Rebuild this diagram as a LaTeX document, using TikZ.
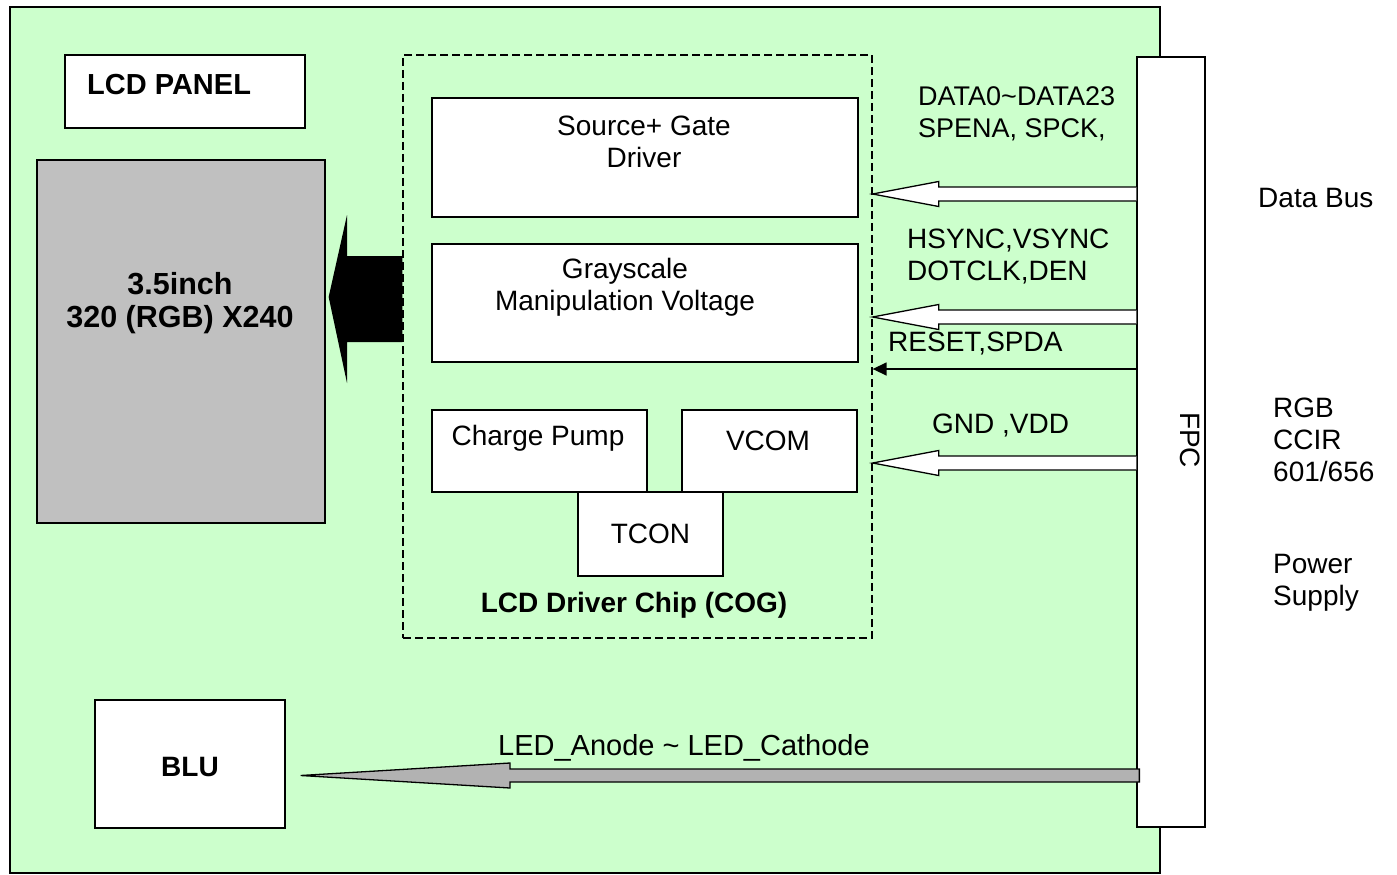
\documentclass[tikz,border=0pt]{standalone}
\usepackage{fontspec}
\setmainfont{Liberation Sans}
\usepackage{xcolor}
\usetikzlibrary{calc,arrows.meta,positioning}
\definecolor{boardGreen}{RGB}{204,255,204}
\definecolor{panelGray}{RGB}{192,192,192}
\definecolor{ledGray}{RGB}{178,178,178}

\begin{document}
\begin{tikzpicture}[x=1pt,y=-1pt,
    font=\fontsize{28}{32}\selectfont,
    block/.style={draw, fill=white, line width=1.3pt, inner sep=0pt},
    txt/.style={inner sep=0pt, align=center},
    sig/.style={inner sep=0pt, align=left, anchor=west}]

    \useasboundingbox (0,0) rectangle (1397,875);

    % board
    \draw[fill=boardGreen, line width=1.5pt] (10,7) rectangle (1160,873);

    % panel side
    \node[block, minimum width=240pt, minimum height=73pt] (title) at (185,91.5) {};
    \node[txt, font=\fontsize{29}{32}\selectfont\bfseries, anchor=west] (titletxt) at (87,85) {LCD PANEL};
    \node[block, fill=panelGray, minimum width=288pt, minimum height=363pt] (panel) at (181,341.5) {};
    \node[txt, font=\fontsize{30.5}{33}\selectfont\bfseries] (paneltxt) at (180,303) {3.5inch\\320 (RGB) X240};

    % driver chip
    \node[draw, dash pattern=on 8pt off 4pt, line width=1.3pt, minimum width=469pt, minimum height=583pt] (chip) at (637.5,346.5) {};
    \node[block, minimum width=426pt, minimum height=119pt] (src) at (645,157.5) {};
    \node[txt] (srctxt) at (644,142) {Source+ Gate\\Driver};
    \node[block, minimum width=426pt, minimum height=118pt] (gray) at (645,303) {};
    \node[txt] (graytxt) at (625,287) {Grayscale\\Manipulation Voltage};
    \node[block, minimum width=215pt, minimum height=82pt] (pump) at (539.5,451) {};
    \node[txt] (pumptxt) at (538,438) {Charge Pump};
    \node[block, minimum width=175pt, minimum height=82pt] (vcom) at (769.5,451) {};
    \node[txt] (vcomtxt) at (768,441) {VCOM};
    \node[block, minimum width=145pt, minimum height=84pt] (tcon) at (650.5,534) {TCON};
    \node[txt, font=\fontsize{28}{32}\selectfont\bfseries] (chiptxt) at (634,605) {LCD Driver Chip (COG)};

    % fpc and backlight
    \node[block, minimum width=68pt, minimum height=770pt] (fpc) at (1171,442) {};
    \node[txt, rotate=-90] (fpctxt) at (1190,440) {FPC};
    \node[block, minimum width=190pt, minimum height=128pt] (blu) at (190,764) {};
    \node[txt, font=\fontsize{28}{32}\selectfont\bfseries] (blutxt) at (190,767) {BLU};

    % bus arrows
    \foreach \yy in {194,317,463} {
        \filldraw[fill=white, line width=1.3pt]
            ($(fpc.west|-0,\yy)+(0,-7)$) -- ($(chip.east|-0,\yy)+(66,-7)$)
            -- ($(chip.east|-0,\yy)+(66,-12.5)$) -- (chip.east|-0,\yy)
            -- ($(chip.east|-0,\yy)+(66,12.5)$) -- ($(chip.east|-0,\yy)+(66,7)$)
            -- ($(fpc.west|-0,\yy)+(0,7)$);
    }
    \draw[line width=1.5pt, -{Triangle[length=14pt,width=13pt]}] (fpc.west|-0,369) -- (chip.east|-0,369);

    % chip to panel
    \fill[black] (chip.west|-0,256) -- (347,256) -- (347,215)
        -- ($(panel.east|-0,297)+(3,0)$) -- (347,383) -- (347,342) -- (chip.west|-0,342) -- cycle;

    % led lines
    \filldraw[fill=ledGray, line width=1.3pt] ($(fpc.west|-0,769)+(3,0)$) -- (510,769) -- (510,763)
        -- ($(blu.east|-0,775.5)+(15,0)$) -- (510,788) -- (510,782) -- ($(fpc.west|-0,782)+(3,0)$) -- cycle;

    % signal labels
    \node[sig, font=\fontsize{27}{32}\selectfont] (datatxt) at (918,114) {DATA0\textasciitilde DATA23\\SPENA, SPCK,};
    \node[sig] (synctxt) at (907,257) {HSYNC,VSYNC\\DOTCLK,DEN};
    \node[sig] (resettxt) at (888,344) {RESET,SPDA};
    \node[sig] (pwrtxt) at (932,426) {GND ,VDD};
    \node[txt, font=\fontsize{29}{32}\selectfont] (ledtxt) at (684,748) {LED\_Anode \textasciitilde{} LED\_Cathode};

    % outside labels
    \node[sig] (bustxt) at (1258,198) {Data Bus};
    \node[sig] (rgbtxt) at (1273,440) {RGB\\CCIR\\601/656};
    \node[sig] (supplytxt) at (1273,583) {Power\\Supply};

\end{tikzpicture}
\end{document}
